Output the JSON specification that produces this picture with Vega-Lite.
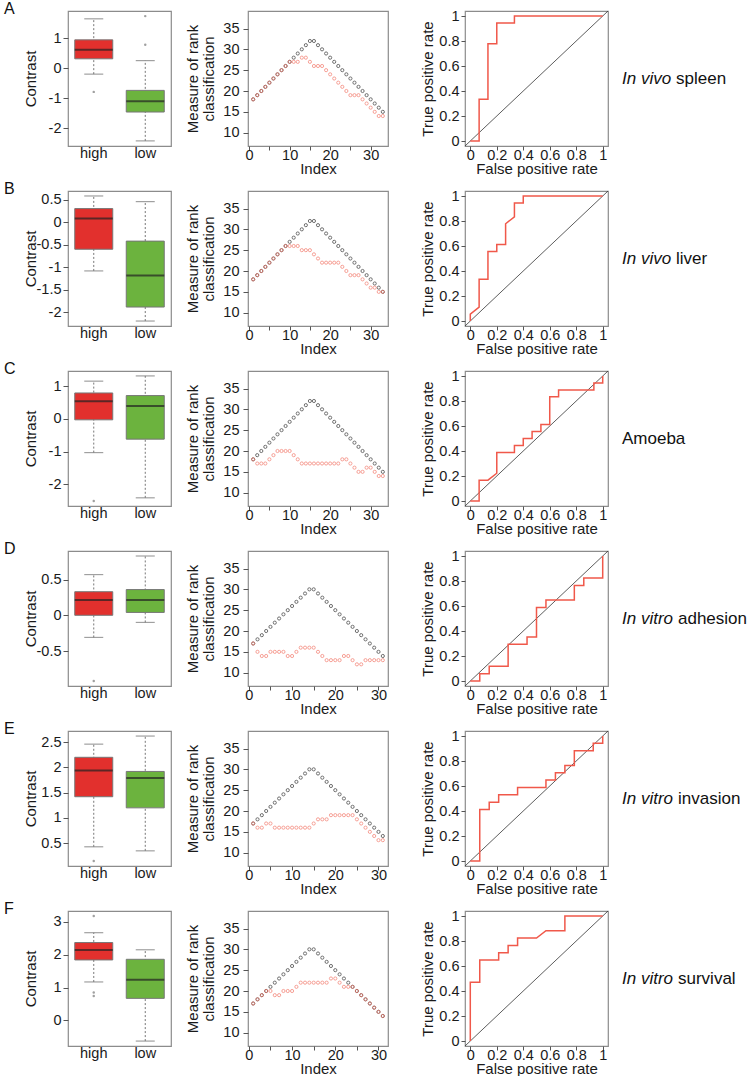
{
"$schema":"https://vega.github.io/schema/vega-lite/v6.json",
"padding":{"left":3,"top":0,"right":5,"bottom":2},
"background":"white",
"columns":3,
"spacing":{"row":45,"column":77},
"bounds":"flush",
"align":"each",
"config":{"font":"Liberation Sans","view":{"stroke":"#8c8c8c","strokeWidth":1.2},
"axis":{"grid":false,"domain":false,"labelFont":"Liberation Sans","titleFont":"Liberation Sans","labelFontSize":14.5,"labelColor":"#1a1a1a","titleFontSize":15,"titleFontWeight":"normal","titleColor":"#1a1a1a","tickColor":"#555","labelOverlap":false,"labelFlush":false,"tickCount":20}},
"datasets":{
"box":[
{"r":"A","g":"high","lw":-0.2,"q1":0.31,"med":0.61,"q3":0.94,"uw":1.64},
{"r":"A","g":"low","lw":-2.42,"q1":-1.46,"med":-1.1,"q3":-0.74,"uw":0.25},
{"r":"B","g":"high","lw":-1.08,"q1":-0.6,"med":0.08,"q3":0.3,"uw":0.58},
{"r":"B","g":"low","lw":-2.19,"q1":-1.88,"med":-1.18,"q3":-0.42,"uw":0.455},
{"r":"C","g":"high","lw":-1.03,"q1":-0.03,"med":0.535,"q3":0.79,"uw":1.15},
{"r":"C","g":"low","lw":-2.41,"q1":-0.62,"med":0.39,"q3":0.71,"uw":1.31},
{"r":"D","g":"high","lw":-0.31,"q1":0.0,"med":0.215,"q3":0.33,"uw":0.57},
{"r":"D","g":"low","lw":-0.1,"q1":0.04,"med":0.215,"q3":0.36,"uw":0.83},
{"r":"E","g":"high","lw":0.43,"q1":1.42,"med":1.94,"q3":2.2,"uw":2.46},
{"r":"E","g":"low","lw":0.35,"q1":1.2,"med":1.79,"q3":1.92,"uw":2.62},
{"r":"F","g":"high","lw":1.17,"q1":1.84,"med":2.14,"q3":2.37,"uw":2.67},
{"r":"F","g":"low","lw":-0.63,"q1":0.67,"med":1.24,"q3":1.86,"uw":2.15}
],
"out":[
{"r":"A","g":"high","v":-0.79},{"r":"A","g":"low","v":0.78},{"r":"A","g":"low","v":1.73},
{"r":"C","g":"high","v":-2.51},
{"r":"D","g":"high","v":-0.92},
{"r":"E","g":"high","v":0.15},
{"r":"F","g":"high","v":3.18},{"r":"F","g":"high","v":0.85},{"r":"F","g":"high","v":0.74}
],
"rank":[
{"r":"A","i":1,"b":18,"o":18},{"r":"A","i":2,"b":19,"o":19},{"r":"A","i":3,"b":20,"o":20},{"r":"A","i":4,"b":21,"o":21},{"r":"A","i":5,"b":22,"o":22},{"r":"A","i":6,"b":23,"o":23},{"r":"A","i":7,"b":24,"o":24},{"r":"A","i":8,"b":25,"o":25},{"r":"A","i":9,"b":26,"o":26},{"r":"A","i":10,"b":27,"o":27},{"r":"A","i":11,"b":28,"o":27},{"r":"A","i":12,"b":29,"o":27},{"r":"A","i":13,"b":30,"o":28},{"r":"A","i":14,"b":31,"o":28},{"r":"A","i":15,"b":32,"o":27},{"r":"A","i":16,"b":32,"o":26},{"r":"A","i":17,"b":31,"o":26},{"r":"A","i":18,"b":30,"o":26},{"r":"A","i":19,"b":29,"o":25},{"r":"A","i":20,"b":28,"o":24},{"r":"A","i":21,"b":27,"o":23},{"r":"A","i":22,"b":26,"o":22},{"r":"A","i":23,"b":25,"o":21},{"r":"A","i":24,"b":24,"o":20},{"r":"A","i":25,"b":23,"o":19},{"r":"A","i":26,"b":22,"o":19},{"r":"A","i":27,"b":21,"o":19},{"r":"A","i":28,"b":20,"o":18},{"r":"A","i":29,"b":19,"o":17},{"r":"A","i":30,"b":18,"o":16},{"r":"A","i":31,"b":17,"o":15},{"r":"A","i":32,"b":16,"o":14},{"r":"A","i":33,"b":15,"o":14},
{"r":"B","i":1,"b":18,"o":18},{"r":"B","i":2,"b":19,"o":19},{"r":"B","i":3,"b":20,"o":20},{"r":"B","i":4,"b":21,"o":21},{"r":"B","i":5,"b":22,"o":22},{"r":"B","i":6,"b":23,"o":23},{"r":"B","i":7,"b":24,"o":24},{"r":"B","i":8,"b":25,"o":25},{"r":"B","i":9,"b":26,"o":26},{"r":"B","i":10,"b":27,"o":26},{"r":"B","i":11,"b":28,"o":26},{"r":"B","i":12,"b":29,"o":26},{"r":"B","i":13,"b":30,"o":25},{"r":"B","i":14,"b":31,"o":25},{"r":"B","i":15,"b":32,"o":25},{"r":"B","i":16,"b":32,"o":24},{"r":"B","i":17,"b":31,"o":23},{"r":"B","i":18,"b":30,"o":22},{"r":"B","i":19,"b":29,"o":22},{"r":"B","i":20,"b":28,"o":22},{"r":"B","i":21,"b":27,"o":22},{"r":"B","i":22,"b":26,"o":22},{"r":"B","i":23,"b":25,"o":21},{"r":"B","i":24,"b":24,"o":20},{"r":"B","i":25,"b":23,"o":19},{"r":"B","i":26,"b":22,"o":19},{"r":"B","i":27,"b":21,"o":19},{"r":"B","i":28,"b":20,"o":18},{"r":"B","i":29,"b":19,"o":17},{"r":"B","i":30,"b":18,"o":16},{"r":"B","i":31,"b":17,"o":16},{"r":"B","i":32,"b":16,"o":15},{"r":"B","i":33,"b":15,"o":15},
{"r":"C","i":1,"b":18,"o":18},{"r":"C","i":2,"b":19,"o":17},{"r":"C","i":3,"b":20,"o":17},{"r":"C","i":4,"b":21,"o":17},{"r":"C","i":5,"b":22,"o":18},{"r":"C","i":6,"b":23,"o":19},{"r":"C","i":7,"b":24,"o":20},{"r":"C","i":8,"b":25,"o":20},{"r":"C","i":9,"b":26,"o":20},{"r":"C","i":10,"b":27,"o":20},{"r":"C","i":11,"b":28,"o":19},{"r":"C","i":12,"b":29,"o":18},{"r":"C","i":13,"b":30,"o":17},{"r":"C","i":14,"b":31,"o":17},{"r":"C","i":15,"b":32,"o":17},{"r":"C","i":16,"b":32,"o":17},{"r":"C","i":17,"b":31,"o":17},{"r":"C","i":18,"b":30,"o":17},{"r":"C","i":19,"b":29,"o":17},{"r":"C","i":20,"b":28,"o":17},{"r":"C","i":21,"b":27,"o":17},{"r":"C","i":22,"b":26,"o":17},{"r":"C","i":23,"b":25,"o":18},{"r":"C","i":24,"b":24,"o":18},{"r":"C","i":25,"b":23,"o":17},{"r":"C","i":26,"b":22,"o":16},{"r":"C","i":27,"b":21,"o":15},{"r":"C","i":28,"b":20,"o":15},{"r":"C","i":29,"b":19,"o":16},{"r":"C","i":30,"b":18,"o":16},{"r":"C","i":31,"b":17,"o":15},{"r":"C","i":32,"b":16,"o":14},{"r":"C","i":33,"b":15,"o":14},
{"r":"D","i":1,"b":17,"o":17},{"r":"D","i":2,"b":18,"o":15},{"r":"D","i":3,"b":19,"o":14},{"r":"D","i":4,"b":20,"o":14},{"r":"D","i":5,"b":21,"o":15},{"r":"D","i":6,"b":22,"o":15},{"r":"D","i":7,"b":23,"o":15},{"r":"D","i":8,"b":24,"o":15},{"r":"D","i":9,"b":25,"o":14},{"r":"D","i":10,"b":26,"o":14},{"r":"D","i":11,"b":27,"o":15},{"r":"D","i":12,"b":28,"o":16},{"r":"D","i":13,"b":29,"o":16},{"r":"D","i":14,"b":30,"o":16},{"r":"D","i":15,"b":30,"o":16},{"r":"D","i":16,"b":29,"o":15},{"r":"D","i":17,"b":28,"o":14},{"r":"D","i":18,"b":27,"o":13},{"r":"D","i":19,"b":26,"o":13},{"r":"D","i":20,"b":25,"o":13},{"r":"D","i":21,"b":24,"o":13},{"r":"D","i":22,"b":23,"o":14},{"r":"D","i":23,"b":22,"o":14},{"r":"D","i":24,"b":21,"o":13},{"r":"D","i":25,"b":20,"o":12},{"r":"D","i":26,"b":19,"o":12},{"r":"D","i":27,"b":18,"o":13},{"r":"D","i":28,"b":17,"o":13},{"r":"D","i":29,"b":16,"o":13},{"r":"D","i":30,"b":15,"o":13},{"r":"D","i":31,"b":14,"o":13},
{"r":"E","i":1,"b":17,"o":17},{"r":"E","i":2,"b":18,"o":16},{"r":"E","i":3,"b":19,"o":16},{"r":"E","i":4,"b":20,"o":17},{"r":"E","i":5,"b":21,"o":17},{"r":"E","i":6,"b":22,"o":16},{"r":"E","i":7,"b":23,"o":16},{"r":"E","i":8,"b":24,"o":16},{"r":"E","i":9,"b":25,"o":16},{"r":"E","i":10,"b":26,"o":16},{"r":"E","i":11,"b":27,"o":16},{"r":"E","i":12,"b":28,"o":16},{"r":"E","i":13,"b":29,"o":16},{"r":"E","i":14,"b":30,"o":16},{"r":"E","i":15,"b":30,"o":17},{"r":"E","i":16,"b":29,"o":18},{"r":"E","i":17,"b":28,"o":18},{"r":"E","i":18,"b":27,"o":18},{"r":"E","i":19,"b":26,"o":19},{"r":"E","i":20,"b":25,"o":19},{"r":"E","i":21,"b":24,"o":19},{"r":"E","i":22,"b":23,"o":19},{"r":"E","i":23,"b":22,"o":19},{"r":"E","i":24,"b":21,"o":19},{"r":"E","i":25,"b":20,"o":18},{"r":"E","i":26,"b":19,"o":17},{"r":"E","i":27,"b":18,"o":16},{"r":"E","i":28,"b":17,"o":15},{"r":"E","i":29,"b":16,"o":14},{"r":"E","i":30,"b":15,"o":13},{"r":"E","i":31,"b":14,"o":13},
{"r":"F","i":1,"b":17,"o":17},{"r":"F","i":2,"b":18,"o":18},{"r":"F","i":3,"b":19,"o":19},{"r":"F","i":4,"b":20,"o":20},{"r":"F","i":5,"b":21,"o":20},{"r":"F","i":6,"b":22,"o":19},{"r":"F","i":7,"b":23,"o":19},{"r":"F","i":8,"b":24,"o":20},{"r":"F","i":9,"b":25,"o":20},{"r":"F","i":10,"b":26,"o":20},{"r":"F","i":11,"b":27,"o":21},{"r":"F","i":12,"b":28,"o":22},{"r":"F","i":13,"b":29,"o":22},{"r":"F","i":14,"b":30,"o":22},{"r":"F","i":15,"b":30,"o":22},{"r":"F","i":16,"b":29,"o":22},{"r":"F","i":17,"b":28,"o":22},{"r":"F","i":18,"b":27,"o":22},{"r":"F","i":19,"b":26,"o":23},{"r":"F","i":20,"b":25,"o":23},{"r":"F","i":21,"b":24,"o":22},{"r":"F","i":22,"b":23,"o":21},{"r":"F","i":23,"b":22,"o":21},{"r":"F","i":24,"b":21,"o":21},{"r":"F","i":25,"b":20,"o":20},{"r":"F","i":26,"b":19,"o":19},{"r":"F","i":27,"b":18,"o":18},{"r":"F","i":28,"b":17,"o":17},{"r":"F","i":29,"b":16,"o":16},{"r":"F","i":30,"b":15,"o":15},{"r":"F","i":31,"b":14,"o":14}
],
"roc":[
{"r":"A","k":0,"x":0,"y":0},{"r":"A","k":1,"x":0.0667,"y":0},{"r":"A","k":2,"x":0.0667,"y":0.3333},{"r":"A","k":3,"x":0.1333,"y":0.3333},{"r":"A","k":4,"x":0.1333,"y":0.7778},{"r":"A","k":5,"x":0.2,"y":0.7778},{"r":"A","k":6,"x":0.2,"y":0.9444},{"r":"A","k":7,"x":0.3333,"y":0.9444},{"r":"A","k":8,"x":0.3333,"y":1},{"r":"A","k":9,"x":1,"y":1},
{"r":"B","k":0,"x":0,"y":0},{"r":"B","k":1,"x":0,"y":0.0556},{"r":"B","k":2,"x":0.0667,"y":0.1111},{"r":"B","k":3,"x":0.0667,"y":0.3333},{"r":"B","k":4,"x":0.1333,"y":0.3333},{"r":"B","k":5,"x":0.1333,"y":0.5556},{"r":"B","k":6,"x":0.2,"y":0.5556},{"r":"B","k":7,"x":0.2,"y":0.6111},{"r":"B","k":8,"x":0.2667,"y":0.6111},{"r":"B","k":9,"x":0.2667,"y":0.7778},{"r":"B","k":10,"x":0.3333,"y":0.8333},{"r":"B","k":11,"x":0.3333,"y":0.9444},{"r":"B","k":12,"x":0.4,"y":0.9444},{"r":"B","k":13,"x":0.4,"y":1},{"r":"B","k":14,"x":1,"y":1},
{"r":"C","k":0,"x":0,"y":0},{"r":"C","k":1,"x":0.0667,"y":0},{"r":"C","k":2,"x":0.0667,"y":0.1667},{"r":"C","k":3,"x":0.1333,"y":0.1667},{"r":"C","k":4,"x":0.2,"y":0.2222},{"r":"C","k":5,"x":0.2,"y":0.3889},{"r":"C","k":6,"x":0.3333,"y":0.3889},{"r":"C","k":7,"x":0.3333,"y":0.4444},{"r":"C","k":8,"x":0.4,"y":0.4444},{"r":"C","k":9,"x":0.4,"y":0.5},{"r":"C","k":10,"x":0.4667,"y":0.5},{"r":"C","k":11,"x":0.4667,"y":0.5556},{"r":"C","k":12,"x":0.5333,"y":0.5556},{"r":"C","k":13,"x":0.5333,"y":0.6111},{"r":"C","k":14,"x":0.6,"y":0.6111},{"r":"C","k":15,"x":0.6,"y":0.8333},{"r":"C","k":16,"x":0.6667,"y":0.8333},{"r":"C","k":17,"x":0.6667,"y":0.8889},{"r":"C","k":18,"x":0.9333,"y":0.8889},{"r":"C","k":19,"x":0.9333,"y":0.9444},{"r":"C","k":20,"x":1,"y":0.9444},{"r":"C","k":21,"x":1,"y":1},
{"r":"D","k":0,"x":0,"y":0},{"r":"D","k":1,"x":0.0714,"y":0},{"r":"D","k":2,"x":0.0714,"y":0.0588},{"r":"D","k":3,"x":0.1429,"y":0.0588},{"r":"D","k":4,"x":0.1429,"y":0.1176},{"r":"D","k":5,"x":0.2857,"y":0.1176},{"r":"D","k":6,"x":0.2857,"y":0.2941},{"r":"D","k":7,"x":0.4286,"y":0.2941},{"r":"D","k":8,"x":0.4286,"y":0.3529},{"r":"D","k":9,"x":0.5,"y":0.3529},{"r":"D","k":10,"x":0.5,"y":0.5882},{"r":"D","k":11,"x":0.5714,"y":0.5882},{"r":"D","k":12,"x":0.5714,"y":0.6471},{"r":"D","k":13,"x":0.7857,"y":0.6471},{"r":"D","k":14,"x":0.7857,"y":0.7647},{"r":"D","k":15,"x":0.8571,"y":0.7647},{"r":"D","k":16,"x":0.8571,"y":0.8235},{"r":"D","k":17,"x":1,"y":0.8235},{"r":"D","k":18,"x":1,"y":1},
{"r":"E","k":0,"x":0,"y":0},{"r":"E","k":1,"x":0.0714,"y":0},{"r":"E","k":2,"x":0.0714,"y":0.4118},{"r":"E","k":3,"x":0.1429,"y":0.4118},{"r":"E","k":4,"x":0.1429,"y":0.4706},{"r":"E","k":5,"x":0.2143,"y":0.4706},{"r":"E","k":6,"x":0.2143,"y":0.5294},{"r":"E","k":7,"x":0.3571,"y":0.5294},{"r":"E","k":8,"x":0.3571,"y":0.5882},{"r":"E","k":9,"x":0.5714,"y":0.5882},{"r":"E","k":10,"x":0.5714,"y":0.6471},{"r":"E","k":11,"x":0.6429,"y":0.6471},{"r":"E","k":12,"x":0.6429,"y":0.7059},{"r":"E","k":13,"x":0.7143,"y":0.7059},{"r":"E","k":14,"x":0.7143,"y":0.7647},{"r":"E","k":15,"x":0.7857,"y":0.7647},{"r":"E","k":16,"x":0.7857,"y":0.8824},{"r":"E","k":17,"x":0.9286,"y":0.8824},{"r":"E","k":18,"x":0.9286,"y":0.9412},{"r":"E","k":19,"x":1,"y":0.9412},{"r":"E","k":20,"x":1,"y":1},
{"r":"F","k":0,"x":0,"y":0},{"r":"F","k":1,"x":0,"y":0.4706},{"r":"F","k":2,"x":0.0714,"y":0.4706},{"r":"F","k":3,"x":0.0714,"y":0.6471},{"r":"F","k":4,"x":0.2143,"y":0.6471},{"r":"F","k":5,"x":0.2143,"y":0.7059},{"r":"F","k":6,"x":0.2857,"y":0.7059},{"r":"F","k":7,"x":0.2857,"y":0.7647},{"r":"F","k":8,"x":0.3571,"y":0.7647},{"r":"F","k":9,"x":0.3571,"y":0.8235},{"r":"F","k":10,"x":0.5,"y":0.8235},{"r":"F","k":11,"x":0.5714,"y":0.8824},{"r":"F","k":12,"x":0.7143,"y":0.8824},{"r":"F","k":13,"x":0.7143,"y":1},{"r":"F","k":14,"x":1,"y":1}
],
"diag":[{"x":-0.04,"y":-0.04},{"x":1.04,"y":1.04}],
"lab":[{"r":"A","it":"In vivo","pl":"spleen"},{"r":"B","it":"In vivo","pl":"liver"},{"r":"C","it":"","pl":"Amoeba"},{"r":"D","it":"In vitro","pl":"adhesion"},{"r":"E","it":"In vitro","pl":"invasion"},{"r":"F","it":"In vitro","pl":"survival"}]
},
"concat":[
{"width":103,"height":135,"title":{"text":"A","anchor":"start","frame":"group","dx":-64,"dy":19,"offset":0,"baseline":"alphabetic","fontSize":16,"fontWeight":"normal","font":"Liberation Sans","color":"#111"},
"data":{"name":"box"},"transform":[{"filter":"datum.r==='A'"}],
"encoding":{"x":{"field":"g","type":"nominal","sort":["high","low"],"scale":{"paddingInner":0,"paddingOuter":0},"axis":{"ticks":false,"labelPadding":0,"title":null,"labelAngle":0,"labelOverlap":false}}},
"layer":[
{"mark":{"type":"rule","color":"#777","strokeDash":[2,2],"strokeWidth":1},"encoding":{"y":{"field":"lw","type":"quantitative","scale":{"domain":[-2.59,1.9],"nice":false,"zero":false},"axis":{"values":[-2,-1,0,1],"tickCount":20,"title":"Contrast","titleX":-30,"tickSize":5,"labelPadding":2,"labelOverlap":false,"labelExpr":"''+datum.value"}},"y2":{"field":"uw"}}},
{"mark":{"type":"tick","color":"#777","size":19,"thickness":1.2},"encoding":{"y":{"field":"lw","type":"quantitative"}}},
{"mark":{"type":"tick","color":"#777","size":19,"thickness":1.2},"encoding":{"y":{"field":"uw","type":"quantitative"}}},
{"mark":{"type":"bar","size":38,"stroke":"#777","strokeWidth":1},"encoding":{"y":{"field":"q1","type":"quantitative"},"y2":{"field":"q3"},"color":{"field":"g","type":"nominal","scale":{"domain":["high","low"],"range":["#E2302D","#6CB33E"]},"legend":null}}},
{"mark":{"type":"tick","color":"#222","size":38,"thickness":2},"encoding":{"y":{"field":"med","type":"quantitative"}}},
{"data":{"name":"out"},"transform":[{"filter":"datum.r==='A'"}],"mark":{"type":"point","filled":true,"size":6,"color":"#777"},"encoding":{"y":{"field":"v","type":"quantitative"}}}
]},
{"width":140,"height":135,"data":{"name":"rank"},"transform":[{"filter":"datum.r==='A'"}],
"encoding":{"x":{"field":"i","type":"quantitative","scale":{"domain":[-0.28,34.28],"nice":false,"zero":false},"axis":{"values":[0,5,10,15,20,25,30],"tickCount":20,"labelExpr":"datum.value % 10 === 0 ? ''+datum.value : ''","title":"Index","tickSize":4,"labelPadding":-2,"titlePadding":0,"labelOverlap":false}}},
"layer":[
{"mark":{"type":"point","size":10,"strokeWidth":1,"color":"#333","filled":false},"encoding":{"y":{"field":"b","type":"quantitative","scale":{"domain":[6.8,39.2],"nice":false,"zero":false},"axis":{"values":[10,15,20,25,30,35],"tickCount":20,"title":["Measure of rank","classification"],"titleX":-48,"titleLineHeight":16,"tickSize":5,"labelPadding":4,"labelOverlap":false,"labelExpr":"''+datum.value"}}}},
{"mark":{"type":"point","size":10,"strokeWidth":0.9,"color":"#F26B5B","filled":false},"encoding":{"y":{"field":"o","type":"quantitative"}}}
]},
{"width":143,"height":135,
"layer":[
{"data":{"name":"diag"},"mark":{"type":"line","color":"#333","strokeWidth":0.8},"encoding":{"x":{"field":"x","type":"quantitative","scale":{"domain":[-0.04,1.04],"nice":false,"zero":false},"axis":{"values":[0,0.2,0.4,0.6,0.8,1],"tickCount":20,"title":"False positive rate","labelExpr":"''+datum.value","tickSize":4,"labelPadding":-2,"titlePadding":0,"labelOverlap":false}},"y":{"field":"y","type":"quantitative","scale":{"domain":[-0.04,1.04],"nice":false,"zero":false},"axis":{"values":[0,0.2,0.4,0.6,0.8,1],"tickCount":20,"title":"True positive rate","labelExpr":"''+datum.value","tickSize":4,"labelPadding":2,"titleX":-30,"labelOverlap":false}}}},
{"data":{"name":"roc"},"transform":[{"filter":"datum.r==='A'"}],"mark":{"type":"line","color":"#F0584A","strokeWidth":1.5},"encoding":{"x":{"field":"x","type":"quantitative"},"y":{"field":"y","type":"quantitative"},"order":{"field":"k","type":"quantitative"}}},
{"data":{"name":"lab"},"transform":[{"filter":"datum.r==='A'"}],"mark":{"type":"text","align":"left","baseline":"middle","dx":14,"fontSize":17,"fontStyle":"italic","color":"#111"},"encoding":{"x":{"value":"width"},"text":{"field":"it"}}},
{"data":{"name":"lab"},"transform":[{"filter":"datum.r==='A'"}],"mark":{"type":"text","align":"left","baseline":"middle","dx":68,"fontSize":17,"color":"#111"},"encoding":{"x":{"value":"width"},"text":{"field":"pl"}}}
]},

{"width":103,"height":135,"title":{"text":"B","anchor":"start","frame":"group","dx":-64,"dy":19,"offset":0,"baseline":"alphabetic","fontSize":16,"fontWeight":"normal","font":"Liberation Sans","color":"#111"},
"data":{"name":"box"},"transform":[{"filter":"datum.r==='B'"}],
"encoding":{"x":{"field":"g","type":"nominal","sort":["high","low"],"scale":{"paddingInner":0,"paddingOuter":0},"axis":{"ticks":false,"labelPadding":0,"title":null,"labelAngle":0,"labelOverlap":false}}},
"layer":[
{"mark":{"type":"rule","color":"#777","strokeDash":[2,2],"strokeWidth":1},"encoding":{"y":{"field":"lw","type":"quantitative","scale":{"domain":[-2.3,0.69],"nice":false,"zero":false},"axis":{"values":[-2,-1.5,-1,-0.5,0,0.5],"tickCount":20,"title":"Contrast","titleX":-30,"tickSize":5,"labelPadding":2,"labelOverlap":false,"labelExpr":"''+datum.value"}},"y2":{"field":"uw"}}},
{"mark":{"type":"tick","color":"#777","size":19,"thickness":1.2},"encoding":{"y":{"field":"lw","type":"quantitative"}}},
{"mark":{"type":"tick","color":"#777","size":19,"thickness":1.2},"encoding":{"y":{"field":"uw","type":"quantitative"}}},
{"mark":{"type":"bar","size":38,"stroke":"#777","strokeWidth":1},"encoding":{"y":{"field":"q1","type":"quantitative"},"y2":{"field":"q3"},"color":{"field":"g","type":"nominal","scale":{"domain":["high","low"],"range":["#E2302D","#6CB33E"]},"legend":null}}},
{"mark":{"type":"tick","color":"#222","size":38,"thickness":2},"encoding":{"y":{"field":"med","type":"quantitative"}}}
]},
{"width":140,"height":135,"data":{"name":"rank"},"transform":[{"filter":"datum.r==='B'"}],
"encoding":{"x":{"field":"i","type":"quantitative","scale":{"domain":[-0.28,34.28],"nice":false,"zero":false},"axis":{"values":[0,5,10,15,20,25,30],"tickCount":20,"labelExpr":"datum.value % 10 === 0 ? ''+datum.value : ''","title":"Index","tickSize":4,"labelPadding":-2,"titlePadding":0,"labelOverlap":false}}},
"layer":[
{"mark":{"type":"point","size":10,"strokeWidth":1,"color":"#333","filled":false},"encoding":{"y":{"field":"b","type":"quantitative","scale":{"domain":[6.8,39.2],"nice":false,"zero":false},"axis":{"values":[10,15,20,25,30,35],"tickCount":20,"title":["Measure of rank","classification"],"titleX":-48,"titleLineHeight":16,"tickSize":5,"labelPadding":4,"labelOverlap":false,"labelExpr":"''+datum.value"}}}},
{"mark":{"type":"point","size":10,"strokeWidth":0.9,"color":"#F26B5B","filled":false},"encoding":{"y":{"field":"o","type":"quantitative"}}}
]},
{"width":143,"height":135,
"layer":[
{"data":{"name":"diag"},"mark":{"type":"line","color":"#333","strokeWidth":0.8},"encoding":{"x":{"field":"x","type":"quantitative","scale":{"domain":[-0.04,1.04],"nice":false,"zero":false},"axis":{"values":[0,0.2,0.4,0.6,0.8,1],"tickCount":20,"title":"False positive rate","labelExpr":"''+datum.value","tickSize":4,"labelPadding":-2,"titlePadding":0,"labelOverlap":false}},"y":{"field":"y","type":"quantitative","scale":{"domain":[-0.04,1.04],"nice":false,"zero":false},"axis":{"values":[0,0.2,0.4,0.6,0.8,1],"tickCount":20,"title":"True positive rate","labelExpr":"''+datum.value","tickSize":4,"labelPadding":2,"titleX":-30,"labelOverlap":false}}}},
{"data":{"name":"roc"},"transform":[{"filter":"datum.r==='B'"}],"mark":{"type":"line","color":"#F0584A","strokeWidth":1.5},"encoding":{"x":{"field":"x","type":"quantitative"},"y":{"field":"y","type":"quantitative"},"order":{"field":"k","type":"quantitative"}}},
{"data":{"name":"lab"},"transform":[{"filter":"datum.r==='B'"}],"mark":{"type":"text","align":"left","baseline":"middle","dx":14,"fontSize":17,"fontStyle":"italic","color":"#111"},"encoding":{"x":{"value":"width"},"text":{"field":"it"}}},
{"data":{"name":"lab"},"transform":[{"filter":"datum.r==='B'"}],"mark":{"type":"text","align":"left","baseline":"middle","dx":68,"fontSize":17,"color":"#111"},"encoding":{"x":{"value":"width"},"text":{"field":"pl"}}}
]},

{"width":103,"height":135,"title":{"text":"C","anchor":"start","frame":"group","dx":-64,"dy":19,"offset":0,"baseline":"alphabetic","fontSize":16,"fontWeight":"normal","font":"Liberation Sans","color":"#111"},
"data":{"name":"box"},"transform":[{"filter":"datum.r==='C'"}],
"encoding":{"x":{"field":"g","type":"nominal","sort":["high","low"],"scale":{"paddingInner":0,"paddingOuter":0},"axis":{"ticks":false,"labelPadding":0,"title":null,"labelAngle":0,"labelOverlap":false}}},
"layer":[
{"mark":{"type":"rule","color":"#777","strokeDash":[2,2],"strokeWidth":1},"encoding":{"y":{"field":"lw","type":"quantitative","scale":{"domain":[-2.66,1.46],"nice":false,"zero":false},"axis":{"values":[-2,-1,0,1],"tickCount":20,"title":"Contrast","titleX":-30,"tickSize":5,"labelPadding":2,"labelOverlap":false,"labelExpr":"''+datum.value"}},"y2":{"field":"uw"}}},
{"mark":{"type":"tick","color":"#777","size":19,"thickness":1.2},"encoding":{"y":{"field":"lw","type":"quantitative"}}},
{"mark":{"type":"tick","color":"#777","size":19,"thickness":1.2},"encoding":{"y":{"field":"uw","type":"quantitative"}}},
{"mark":{"type":"bar","size":38,"stroke":"#777","strokeWidth":1},"encoding":{"y":{"field":"q1","type":"quantitative"},"y2":{"field":"q3"},"color":{"field":"g","type":"nominal","scale":{"domain":["high","low"],"range":["#E2302D","#6CB33E"]},"legend":null}}},
{"mark":{"type":"tick","color":"#222","size":38,"thickness":2},"encoding":{"y":{"field":"med","type":"quantitative"}}},
{"data":{"name":"out"},"transform":[{"filter":"datum.r==='C'"}],"mark":{"type":"point","filled":true,"size":6,"color":"#777"},"encoding":{"y":{"field":"v","type":"quantitative"}}}
]},
{"width":140,"height":135,"data":{"name":"rank"},"transform":[{"filter":"datum.r==='C'"}],
"encoding":{"x":{"field":"i","type":"quantitative","scale":{"domain":[-0.28,34.28],"nice":false,"zero":false},"axis":{"values":[0,5,10,15,20,25,30],"tickCount":20,"labelExpr":"datum.value % 10 === 0 ? ''+datum.value : ''","title":"Index","tickSize":4,"labelPadding":-2,"titlePadding":0,"labelOverlap":false}}},
"layer":[
{"mark":{"type":"point","size":10,"strokeWidth":1,"color":"#333","filled":false},"encoding":{"y":{"field":"b","type":"quantitative","scale":{"domain":[6.8,39.2],"nice":false,"zero":false},"axis":{"values":[10,15,20,25,30,35],"tickCount":20,"title":["Measure of rank","classification"],"titleX":-48,"titleLineHeight":16,"tickSize":5,"labelPadding":4,"labelOverlap":false,"labelExpr":"''+datum.value"}}}},
{"mark":{"type":"point","size":10,"strokeWidth":0.9,"color":"#F26B5B","filled":false},"encoding":{"y":{"field":"o","type":"quantitative"}}}
]},
{"width":143,"height":135,
"layer":[
{"data":{"name":"diag"},"mark":{"type":"line","color":"#333","strokeWidth":0.8},"encoding":{"x":{"field":"x","type":"quantitative","scale":{"domain":[-0.04,1.04],"nice":false,"zero":false},"axis":{"values":[0,0.2,0.4,0.6,0.8,1],"tickCount":20,"title":"False positive rate","labelExpr":"''+datum.value","tickSize":4,"labelPadding":-2,"titlePadding":0,"labelOverlap":false}},"y":{"field":"y","type":"quantitative","scale":{"domain":[-0.04,1.04],"nice":false,"zero":false},"axis":{"values":[0,0.2,0.4,0.6,0.8,1],"tickCount":20,"title":"True positive rate","labelExpr":"''+datum.value","tickSize":4,"labelPadding":2,"titleX":-30,"labelOverlap":false}}}},
{"data":{"name":"roc"},"transform":[{"filter":"datum.r==='C'"}],"mark":{"type":"line","color":"#F0584A","strokeWidth":1.5},"encoding":{"x":{"field":"x","type":"quantitative"},"y":{"field":"y","type":"quantitative"},"order":{"field":"k","type":"quantitative"}}},
{"data":{"name":"lab"},"transform":[{"filter":"datum.r==='C'"}],"mark":{"type":"text","align":"left","baseline":"middle","dx":14,"fontSize":17,"color":"#111"},"encoding":{"x":{"value":"width"},"text":{"field":"pl"}}}
]},

{"width":103,"height":135,"title":{"text":"D","anchor":"start","frame":"group","dx":-64,"dy":19,"offset":0,"baseline":"alphabetic","fontSize":16,"fontWeight":"normal","font":"Liberation Sans","color":"#111"},
"data":{"name":"box"},"transform":[{"filter":"datum.r==='D'"}],
"encoding":{"x":{"field":"g","type":"nominal","sort":["high","low"],"scale":{"paddingInner":0,"paddingOuter":0},"axis":{"ticks":false,"labelPadding":0,"title":null,"labelAngle":0,"labelOverlap":false}}},
"layer":[
{"mark":{"type":"rule","color":"#777","strokeDash":[2,2],"strokeWidth":1},"encoding":{"y":{"field":"lw","type":"quantitative","scale":{"domain":[-0.99,0.9],"nice":false,"zero":false},"axis":{"values":[-0.5,0,0.5],"tickCount":20,"title":"Contrast","titleX":-30,"tickSize":5,"labelPadding":2,"labelOverlap":false,"labelExpr":"''+datum.value"}},"y2":{"field":"uw"}}},
{"mark":{"type":"tick","color":"#777","size":19,"thickness":1.2},"encoding":{"y":{"field":"lw","type":"quantitative"}}},
{"mark":{"type":"tick","color":"#777","size":19,"thickness":1.2},"encoding":{"y":{"field":"uw","type":"quantitative"}}},
{"mark":{"type":"bar","size":38,"stroke":"#777","strokeWidth":1},"encoding":{"y":{"field":"q1","type":"quantitative"},"y2":{"field":"q3"},"color":{"field":"g","type":"nominal","scale":{"domain":["high","low"],"range":["#E2302D","#6CB33E"]},"legend":null}}},
{"mark":{"type":"tick","color":"#222","size":38,"thickness":2},"encoding":{"y":{"field":"med","type":"quantitative"}}},
{"data":{"name":"out"},"transform":[{"filter":"datum.r==='D'"}],"mark":{"type":"point","filled":true,"size":6,"color":"#777"},"encoding":{"y":{"field":"v","type":"quantitative"}}}
]},
{"width":140,"height":135,"data":{"name":"rank"},"transform":[{"filter":"datum.r==='D'"}],
"encoding":{"x":{"field":"i","type":"quantitative","scale":{"domain":[-0.2,32.2],"nice":false,"zero":false},"axis":{"values":[0,5,10,15,20,25,30],"tickCount":20,"labelExpr":"datum.value % 10 === 0 ? ''+datum.value : ''","title":"Index","tickSize":4,"labelPadding":-2,"titlePadding":0,"labelOverlap":false}}},
"layer":[
{"mark":{"type":"point","size":10,"strokeWidth":1,"color":"#333","filled":false},"encoding":{"y":{"field":"b","type":"quantitative","scale":{"domain":[6.8,39.2],"nice":false,"zero":false},"axis":{"values":[10,15,20,25,30,35],"tickCount":20,"title":["Measure of rank","classification"],"titleX":-48,"titleLineHeight":16,"tickSize":5,"labelPadding":4,"labelOverlap":false,"labelExpr":"''+datum.value"}}}},
{"mark":{"type":"point","size":10,"strokeWidth":0.9,"color":"#F26B5B","filled":false},"encoding":{"y":{"field":"o","type":"quantitative"}}}
]},
{"width":143,"height":135,
"layer":[
{"data":{"name":"diag"},"mark":{"type":"line","color":"#333","strokeWidth":0.8},"encoding":{"x":{"field":"x","type":"quantitative","scale":{"domain":[-0.04,1.04],"nice":false,"zero":false},"axis":{"values":[0,0.2,0.4,0.6,0.8,1],"tickCount":20,"title":"False positive rate","labelExpr":"''+datum.value","tickSize":4,"labelPadding":-2,"titlePadding":0,"labelOverlap":false}},"y":{"field":"y","type":"quantitative","scale":{"domain":[-0.04,1.04],"nice":false,"zero":false},"axis":{"values":[0,0.2,0.4,0.6,0.8,1],"tickCount":20,"title":"True positive rate","labelExpr":"''+datum.value","tickSize":4,"labelPadding":2,"titleX":-30,"labelOverlap":false}}}},
{"data":{"name":"roc"},"transform":[{"filter":"datum.r==='D'"}],"mark":{"type":"line","color":"#F0584A","strokeWidth":1.5},"encoding":{"x":{"field":"x","type":"quantitative"},"y":{"field":"y","type":"quantitative"},"order":{"field":"k","type":"quantitative"}}},
{"data":{"name":"lab"},"transform":[{"filter":"datum.r==='D'"}],"mark":{"type":"text","align":"left","baseline":"middle","dx":14,"fontSize":17,"fontStyle":"italic","color":"#111"},"encoding":{"x":{"value":"width"},"text":{"field":"it"}}},
{"data":{"name":"lab"},"transform":[{"filter":"datum.r==='D'"}],"mark":{"type":"text","align":"left","baseline":"middle","dx":70,"fontSize":17,"color":"#111"},"encoding":{"x":{"value":"width"},"text":{"field":"pl"}}}
]},

{"width":103,"height":135,"title":{"text":"E","anchor":"start","frame":"group","dx":-64,"dy":19,"offset":0,"baseline":"alphabetic","fontSize":16,"fontWeight":"normal","font":"Liberation Sans","color":"#111"},
"data":{"name":"box"},"transform":[{"filter":"datum.r==='E'"}],
"encoding":{"x":{"field":"g","type":"nominal","sort":["high","low"],"scale":{"paddingInner":0,"paddingOuter":0},"axis":{"ticks":false,"labelPadding":0,"title":null,"labelAngle":0,"labelOverlap":false}}},
"layer":[
{"mark":{"type":"rule","color":"#777","strokeDash":[2,2],"strokeWidth":1},"encoding":{"y":{"field":"lw","type":"quantitative","scale":{"domain":[0.05,2.72],"nice":false,"zero":false},"axis":{"values":[0.5,1,1.5,2,2.5],"tickCount":20,"title":"Contrast","titleX":-30,"tickSize":5,"labelPadding":2,"labelOverlap":false,"labelExpr":"''+datum.value"}},"y2":{"field":"uw"}}},
{"mark":{"type":"tick","color":"#777","size":19,"thickness":1.2},"encoding":{"y":{"field":"lw","type":"quantitative"}}},
{"mark":{"type":"tick","color":"#777","size":19,"thickness":1.2},"encoding":{"y":{"field":"uw","type":"quantitative"}}},
{"mark":{"type":"bar","size":38,"stroke":"#777","strokeWidth":1},"encoding":{"y":{"field":"q1","type":"quantitative"},"y2":{"field":"q3"},"color":{"field":"g","type":"nominal","scale":{"domain":["high","low"],"range":["#E2302D","#6CB33E"]},"legend":null}}},
{"mark":{"type":"tick","color":"#222","size":38,"thickness":2},"encoding":{"y":{"field":"med","type":"quantitative"}}},
{"data":{"name":"out"},"transform":[{"filter":"datum.r==='E'"}],"mark":{"type":"point","filled":true,"size":6,"color":"#777"},"encoding":{"y":{"field":"v","type":"quantitative"}}}
]},
{"width":140,"height":135,"data":{"name":"rank"},"transform":[{"filter":"datum.r==='E'"}],
"encoding":{"x":{"field":"i","type":"quantitative","scale":{"domain":[-0.2,32.2],"nice":false,"zero":false},"axis":{"values":[0,5,10,15,20,25,30],"tickCount":20,"labelExpr":"datum.value % 10 === 0 ? ''+datum.value : ''","title":"Index","tickSize":4,"labelPadding":-2,"titlePadding":0,"labelOverlap":false}}},
"layer":[
{"mark":{"type":"point","size":10,"strokeWidth":1,"color":"#333","filled":false},"encoding":{"y":{"field":"b","type":"quantitative","scale":{"domain":[6.8,39.2],"nice":false,"zero":false},"axis":{"values":[10,15,20,25,30,35],"tickCount":20,"title":["Measure of rank","classification"],"titleX":-48,"titleLineHeight":16,"tickSize":5,"labelPadding":4,"labelOverlap":false,"labelExpr":"''+datum.value"}}}},
{"mark":{"type":"point","size":10,"strokeWidth":0.9,"color":"#F26B5B","filled":false},"encoding":{"y":{"field":"o","type":"quantitative"}}}
]},
{"width":143,"height":135,
"layer":[
{"data":{"name":"diag"},"mark":{"type":"line","color":"#333","strokeWidth":0.8},"encoding":{"x":{"field":"x","type":"quantitative","scale":{"domain":[-0.04,1.04],"nice":false,"zero":false},"axis":{"values":[0,0.2,0.4,0.6,0.8,1],"tickCount":20,"title":"False positive rate","labelExpr":"''+datum.value","tickSize":4,"labelPadding":-2,"titlePadding":0,"labelOverlap":false}},"y":{"field":"y","type":"quantitative","scale":{"domain":[-0.04,1.04],"nice":false,"zero":false},"axis":{"values":[0,0.2,0.4,0.6,0.8,1],"tickCount":20,"title":"True positive rate","labelExpr":"''+datum.value","tickSize":4,"labelPadding":2,"titleX":-30,"labelOverlap":false}}}},
{"data":{"name":"roc"},"transform":[{"filter":"datum.r==='E'"}],"mark":{"type":"line","color":"#F0584A","strokeWidth":1.5},"encoding":{"x":{"field":"x","type":"quantitative"},"y":{"field":"y","type":"quantitative"},"order":{"field":"k","type":"quantitative"}}},
{"data":{"name":"lab"},"transform":[{"filter":"datum.r==='E'"}],"mark":{"type":"text","align":"left","baseline":"middle","dx":14,"fontSize":17,"fontStyle":"italic","color":"#111"},"encoding":{"x":{"value":"width"},"text":{"field":"it"}}},
{"data":{"name":"lab"},"transform":[{"filter":"datum.r==='E'"}],"mark":{"type":"text","align":"left","baseline":"middle","dx":70,"fontSize":17,"color":"#111"},"encoding":{"x":{"value":"width"},"text":{"field":"pl"}}}
]},

{"width":103,"height":135,"title":{"text":"F","anchor":"start","frame":"group","dx":-64,"dy":19,"offset":0,"baseline":"alphabetic","fontSize":16,"fontWeight":"normal","font":"Liberation Sans","color":"#111"},
"data":{"name":"box"},"transform":[{"filter":"datum.r==='F'"}],
"encoding":{"x":{"field":"g","type":"nominal","sort":["high","low"],"scale":{"paddingInner":0,"paddingOuter":0},"axis":{"ticks":false,"labelPadding":0,"title":null,"labelAngle":0,"labelOverlap":false}}},
"layer":[
{"mark":{"type":"rule","color":"#777","strokeDash":[2,2],"strokeWidth":1},"encoding":{"y":{"field":"lw","type":"quantitative","scale":{"domain":[-0.78,3.33],"nice":false,"zero":false},"axis":{"values":[0,1,2,3],"tickCount":20,"title":"Contrast","titleX":-30,"tickSize":5,"labelPadding":2,"labelOverlap":false,"labelExpr":"''+datum.value"}},"y2":{"field":"uw"}}},
{"mark":{"type":"tick","color":"#777","size":19,"thickness":1.2},"encoding":{"y":{"field":"lw","type":"quantitative"}}},
{"mark":{"type":"tick","color":"#777","size":19,"thickness":1.2},"encoding":{"y":{"field":"uw","type":"quantitative"}}},
{"mark":{"type":"bar","size":38,"stroke":"#777","strokeWidth":1},"encoding":{"y":{"field":"q1","type":"quantitative"},"y2":{"field":"q3"},"color":{"field":"g","type":"nominal","scale":{"domain":["high","low"],"range":["#E2302D","#6CB33E"]},"legend":null}}},
{"mark":{"type":"tick","color":"#222","size":38,"thickness":2},"encoding":{"y":{"field":"med","type":"quantitative"}}},
{"data":{"name":"out"},"transform":[{"filter":"datum.r==='F'"}],"mark":{"type":"point","filled":true,"size":6,"color":"#777"},"encoding":{"y":{"field":"v","type":"quantitative"}}}
]},
{"width":140,"height":135,"data":{"name":"rank"},"transform":[{"filter":"datum.r==='F'"}],
"encoding":{"x":{"field":"i","type":"quantitative","scale":{"domain":[-0.2,32.2],"nice":false,"zero":false},"axis":{"values":[0,5,10,15,20,25,30],"tickCount":20,"labelExpr":"datum.value % 10 === 0 ? ''+datum.value : ''","title":"Index","tickSize":4,"labelPadding":-2,"titlePadding":0,"labelOverlap":false}}},
"layer":[
{"mark":{"type":"point","size":10,"strokeWidth":1,"color":"#333","filled":false},"encoding":{"y":{"field":"b","type":"quantitative","scale":{"domain":[6.8,39.2],"nice":false,"zero":false},"axis":{"values":[10,15,20,25,30,35],"tickCount":20,"title":["Measure of rank","classification"],"titleX":-48,"titleLineHeight":16,"tickSize":5,"labelPadding":4,"labelOverlap":false,"labelExpr":"''+datum.value"}}}},
{"mark":{"type":"point","size":10,"strokeWidth":0.9,"color":"#F26B5B","filled":false},"encoding":{"y":{"field":"o","type":"quantitative"}}}
]},
{"width":143,"height":135,
"layer":[
{"data":{"name":"diag"},"mark":{"type":"line","color":"#333","strokeWidth":0.8},"encoding":{"x":{"field":"x","type":"quantitative","scale":{"domain":[-0.04,1.04],"nice":false,"zero":false},"axis":{"values":[0,0.2,0.4,0.6,0.8,1],"tickCount":20,"title":"False positive rate","labelExpr":"''+datum.value","tickSize":4,"labelPadding":-2,"titlePadding":0,"labelOverlap":false}},"y":{"field":"y","type":"quantitative","scale":{"domain":[-0.04,1.04],"nice":false,"zero":false},"axis":{"values":[0,0.2,0.4,0.6,0.8,1],"tickCount":20,"title":"True positive rate","labelExpr":"''+datum.value","tickSize":4,"labelPadding":2,"titleX":-30,"labelOverlap":false}}}},
{"data":{"name":"roc"},"transform":[{"filter":"datum.r==='F'"}],"mark":{"type":"line","color":"#F0584A","strokeWidth":1.5},"encoding":{"x":{"field":"x","type":"quantitative"},"y":{"field":"y","type":"quantitative"},"order":{"field":"k","type":"quantitative"}}},
{"data":{"name":"lab"},"transform":[{"filter":"datum.r==='F'"}],"mark":{"type":"text","align":"left","baseline":"middle","dx":14,"fontSize":17,"fontStyle":"italic","color":"#111"},"encoding":{"x":{"value":"width"},"text":{"field":"it"}}},
{"data":{"name":"lab"},"transform":[{"filter":"datum.r==='F'"}],"mark":{"type":"text","align":"left","baseline":"middle","dx":70,"fontSize":17,"color":"#111"},"encoding":{"x":{"value":"width"},"text":{"field":"pl"}}}
]}
]
}
